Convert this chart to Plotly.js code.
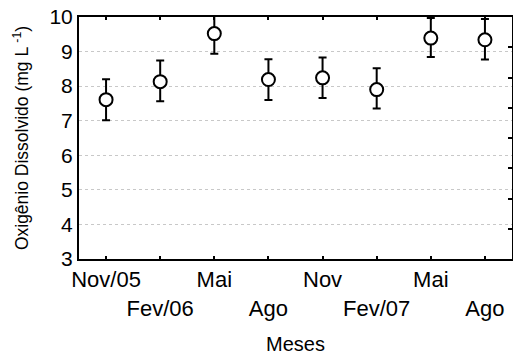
<!DOCTYPE html>
<html>
<head>
<meta charset="utf-8">
<script src="https://cdn.plot.ly/plotly-3.0.1.min.js"></script>
<style>html,body{margin:0;padding:0;background:#fff;}#chart{width:513px;height:361px;}</style>
</head>
<body>
<div id="chart"></div>
<script>
// Monthly sampling campaigns
const meses = ['Nov/05', 'Fev/06', 'Mai', 'Ago', 'Nov', 'Fev/07', 'Mai', 'Ago'];
// Mean dissolved oxygen (mg/L)
const oxigenio = [7.61, 8.13, 9.52, 8.19, 8.24, 7.90, 9.39, 9.34];
// Error bar half-widths (mg/L)
const erroSup = [0.59, 0.61, 0.58, 0.59, 0.59, 0.62, 0.58, 0.60];
const erroInf = [0.60, 0.57, 0.58, 0.59, 0.58, 0.55, 0.55, 0.57];

const posicoes = meses.map((_, i) => i + 1);
// alternate labels between two rows so they don't collide
const rotulos = meses.map((m, i) => (i % 2 === 0 ? m : '<br>' + m));

const fonte = {family: 'Arial, "Liberation Sans", sans-serif', color: '#000'};

const trace = {
  x: posicoes,
  y: oxigenio,
  type: 'scatter',
  mode: 'markers',
  marker: {symbol: 'circle', size: 13, color: '#fff', line: {color: '#000', width: 2}},
  error_y: {type: 'data', symmetric: false, array: erroSup, arrayminus: erroInf,
            color: '#000', thickness: 2, width: 4},
  showlegend: false,
  hoverinfo: 'skip'
};

// empty companion trace for the right-hand tick axis
const eixoDireito = {x: [], y: [], yaxis: 'y2', type: 'scatter', mode: 'markers', showlegend: false};

const layout = {
  width: 513, height: 361,
  margin: {l: 79, r: 1, t: 17, b: 102},
  paper_bgcolor: '#fff', plot_bgcolor: '#fff',
  font: Object.assign({size: 21}, fonte),
  xaxis: {
    range: [0.5, 8.5],
    tickvals: posicoes, ticktext: rotulos, tickangle: 0,
    ticks: 'inside', ticklen: 3, tickwidth: 2, tickcolor: '#000',
    ticklabelstandoff: 0,
    showline: true, linecolor: '#000', linewidth: 2, mirror: 'ticks',
    showgrid: false, zeroline: false,
    tickfont: Object.assign({size: 22}, fonte),
    title: {text: 'Meses', font: Object.assign({size: 20}, fonte), standoff: 17}
  },
  yaxis: {
    range: [3, 10], dtick: 1,
    ticks: '', showline: true, linecolor: '#000', linewidth: 2, mirror: true,
    showgrid: true, gridcolor: '#c8c8c8', gridwidth: 1, griddash: 'dot',
    zeroline: false,
    tickfont: Object.assign({size: 21}, fonte),
    title: {text: 'Oxigênio Dissolvido (mg L <sup>-1</sup>)', font: Object.assign({size: 17.5}, fonte), standoff: 16}
  },
  yaxis2: {
    overlaying: 'y', side: 'right', anchor: 'x',
    range: [0, 8], dtick: 1,
    ticks: 'inside', ticklen: 4, tickwidth: 2, tickcolor: '#000',
    showticklabels: false, showgrid: false, showline: false, zeroline: false
  }
};

Plotly.newPlot('chart', [trace, eixoDireito], layout, {displayModeBar: false, staticPlot: true});
</script>
</body>
</html>
